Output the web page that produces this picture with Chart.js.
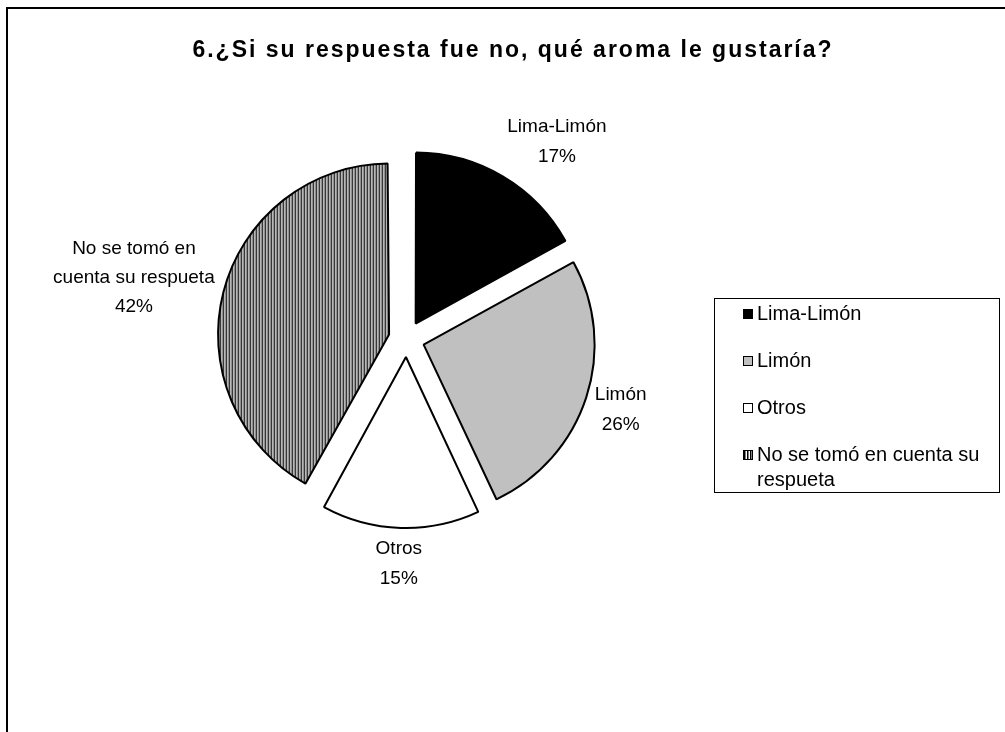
<!DOCTYPE html>
<html>
<head>
<meta charset="utf-8">
<title>Aroma</title>
<script src="https://cdn.jsdelivr.net/npm/chart.js@4.4.0/dist/chart.umd.min.js"></script>
<style>
    html, body { margin: 0; padding: 0; background: #ffffff; }
    canvas { display: block; }
</style>
</head>
<body>
<canvas id="chart1" width="1005" height="732"></canvas>
<script>
const titleText = '6.¿Si su respuesta fue no, qué aroma le gustaría?';
const categories = ['Lima-Limón', 'Limón', 'Otros', 'No se tomó en cuenta su respueta'];
const percentages = [17, 26, 15, 42];
// category text as it is broken over lines next to each slice
const sliceLabelLines = [['Lima-Limón'], ['Limón'], ['Otros'], ['No se tomó en', 'cuenta su respueta']];

const FONT = '"Liberation Sans", Arial, sans-serif';

function clamp(v) {
    return Math.max(-1, Math.min(1, v));
}

// vertical black / grey / white hatch for the last slice
function stripePattern() {
    var c = document.createElement('canvas');
    c.width = 3;
    c.height = 1;
    var g = c.getContext('2d');
    g.fillStyle = '#ffffff';
    g.fillRect(0, 0, 3, 1);
    g.fillStyle = '#000000';
    g.fillRect(0, 0, 1, 1);
    g.fillStyle = '#808080';
    g.fillRect(1, 0, 1, 1);
    return g.createPattern(c, 'repeat');
}

// Chart.js grows the radius of narrow exploded slices; this is how much
function radiusGrowth(arc) {
    return (arc.options.offset / 4) * (1 - Math.sin(Math.min(Math.PI, arc.circumference)));
}

// keep every exploded slice at the same radius
const evenRadius = {
    id: 'evenRadius',
    afterDatasetsUpdate(chart) {
        chart.getDatasetMeta(0).data.forEach(function (arc) {
            arc.outerRadius -= radiusGrowth(arc);
        });
    }
};

// outer frame and title
const frameAndTitle = {
    id: 'frameAndTitle',
    beforeDraw(chart) {
        var ctx = chart.ctx;
        ctx.save();
        ctx.fillStyle = '#ffffff';
        ctx.fillRect(0, 0, chart.width, chart.height);
        ctx.strokeStyle = '#000000';
        ctx.lineWidth = 2;
        ctx.strokeRect(7, 8, chart.width + 20, chart.height + 20);

        ctx.fillStyle = '#000000';
        ctx.font = 'bold 23px ' + FONT;
        ctx.letterSpacing = '2px';
        ctx.textAlign = 'center';
        ctx.textBaseline = 'alphabetic';
        ctx.fillText(titleText, 513, 57);
        ctx.restore();
    }
};

// category name and percentage outside each slice
const sliceLabels = {
    id: 'sliceLabels',
    afterDatasetsDraw(chart) {
        var ctx = chart.ctx;
        var meta = chart.getDatasetMeta(0);
        var values = chart.data.datasets[0].data;
        ctx.save();
        ctx.font = '19px ' + FONT;
        ctx.fillStyle = '#000000';
        ctx.textAlign = 'center';
        ctx.textBaseline = 'middle';
        meta.data.forEach(function (arc, i) {
            var lines = sliceLabelLines[i].concat(values[i] + '%');
            var mid = (arc.startAngle + arc.endAngle) / 2;
            var dx = Math.cos(mid), dy = Math.sin(mid);
            var edge = arc.options.offset / 4 + arc.outerRadius + radiusGrowth(arc);
            var ax = arc.x + dx * edge, ay = arc.y + dy * edge;
            var w = Math.max.apply(null, lines.map(function (t) { return ctx.measureText(t).width; }));
            var hh = lines.length * 13.5;
            var cx = ax + dx * 9 + (w / 2) * clamp(dx * 2);
            var cy = ay + dy * 9 + hh * clamp(dy * 1.2);
            var step = lines.length > 2 ? 29 : 30;
            lines.forEach(function (t, k) {
                ctx.fillText(t, cx, cy + (k - (lines.length - 1) / 2) * step);
            });
        });
        ctx.restore();
    }
};

// boxed legend on the right, long names wrap
const boxLegend = {
    id: 'boxLegend',
    afterDraw(chart) {
        var ctx = chart.ctx;
        var items = chart.options.plugins.legend.labels.generateLabels(chart);
        var left = 714.5, width = 285, textX = 757, maxText = 232;
        var rowY = 314, rowGap = 47, lineGap = 25;
        ctx.save();
        ctx.font = '20px ' + FONT;
        ctx.textBaseline = 'middle';
        ctx.textAlign = 'left';

        var rows = items.map(function (item) {
            var words = item.text.split(' ');
            var lines = [];
            var cur = '';
            words.forEach(function (wd) {
                var test = cur ? cur + ' ' + wd : wd;
                if (cur && ctx.measureText(test).width > maxText) {
                    lines.push(cur);
                    cur = wd;
                } else {
                    cur = test;
                }
            });
            lines.push(cur);
            return { item: item, lines: lines };
        });

        var y = rowY;
        var lastLineY = y;
        rows.forEach(function (row) {
            ctx.fillStyle = row.item.fillStyle;
            ctx.fillRect(743, y - 5, 10, 10);
            ctx.strokeStyle = '#000000';
            ctx.lineWidth = 1;
            ctx.strokeRect(743.5, y - 4.5, 9, 9);
            ctx.fillStyle = '#000000';
            row.lines.forEach(function (t, k) {
                ctx.fillText(t, textX, y + k * lineGap);
                lastLineY = y + k * lineGap;
            });
            y += rowGap;
        });

        ctx.strokeStyle = '#000000';
        ctx.lineWidth = 1;
        ctx.strokeRect(left, rowY - 16 + 0.5, width, lastLineY + 12 - (rowY - 16));
        ctx.restore();
    }
};

document.addEventListener('DOMContentLoaded', function () {
    var ctx1 = document.getElementById('chart1').getContext('2d');
    var chart1 = new Chart(ctx1, {
        type: 'pie',
        data: {
            labels: categories,
            datasets: [{
                data: percentages,
                backgroundColor: ['#000000', '#c0c0c0', '#ffffff', stripePattern()],
                borderColor: '#000000',
                borderWidth: 2,
                offset: 72
            }]
        },
        options: {
            responsive: false,
            animation: false,
            events: [],
            radius: 171,
            layout: {
                padding: { left: 0, right: 192, top: 0, bottom: 54 }
            },
            plugins: {
                legend: { display: false },
                title: { display: false },
                tooltip: { enabled: false }
            }
        },
        plugins: [evenRadius, frameAndTitle, sliceLabels, boxLegend]
    });
});
</script>
</body>
</html>
